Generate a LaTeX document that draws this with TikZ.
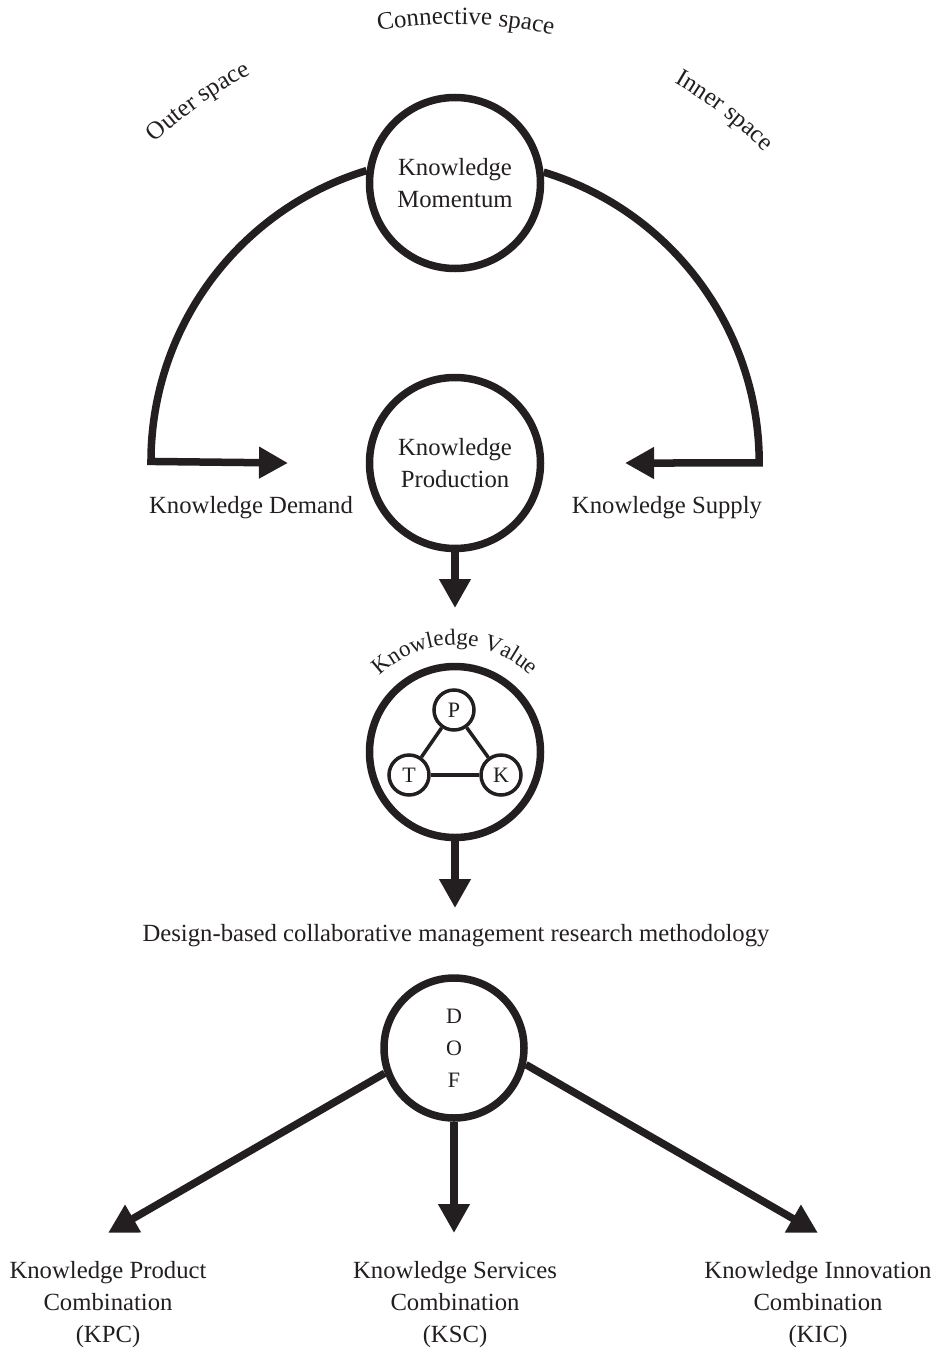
\documentclass[tikz,border=0pt]{standalone}
\usepackage{fontspec}
\setmainfont{Liberation Serif}
\usetikzlibrary{arrows.meta,decorations.text}
\definecolor{ink}{HTML}{231F20}
\newcommand\lblfont{\fontsize{24.7}{32}\selectfont}
\newcommand\arcfont{\fontsize{25}{30}\selectfont}
\newcommand\valfont{\fontsize{23}{28}\selectfont}
\newcommand\dofont{\fontsize{22}{32}\selectfont}
\newcommand\ptkfont{\fontsize{22}{24}\selectfont}
\tikzset{
  conn/.style={line width=7.5pt, draw=ink},
  tipped/.style={-{Triangle[length=29pt,width=30pt]}},
  bigcirc/.style={circle, draw=ink, line width=7.5pt, minimum size=171pt,
    inner sep=0pt, align=center, font=\lblfont, text=ink, fill=white},
  smallcirc/.style={circle, draw=ink, line width=3.5pt, minimum size=40pt,
    inner sep=0pt, font=\ptkfont, text=ink, fill=white},
  txt/.style={align=center, font=\lblfont, text=ink, inner sep=0pt},
  thinlink/.style={line width=3.5pt, draw=ink},
}
\begin{document}
\begin{tikzpicture}[x=1pt,y=1pt]
\useasboundingbox (0,0) rectangle (943,-1351);

% centre of the big half-ring and of the space labels
\coordinate (ac) at (455,-463);

% main circles
\node[bigcirc] (mom)  at (455,-183) {Knowledge\\Momentum};
\node[bigcirc] (prod) at (455,-463) {Knowledge\\Production};
\node[bigcirc] (val)  at (455,-752) {};
\node[bigcirc, minimum size=140pt, font=\dofont] (dof) at (454,-1048) {D\\O\\F};

% P-T-K triangle inside the value circle
\node[smallcirc] (p) at (454,-710) {P};
\node[smallcirc] (t) at (409,-775) {T};
\node[smallcirc] (k) at (501,-775) {K};
\draw[thinlink] (p) -- (t);
\draw[thinlink] (p) -- (k);
\draw[thinlink] (t) -- (k);

% labels
\node[txt] (dem) at (251,-508) {Knowledge Demand};
\node[txt] (sup) at (667,-508) {Knowledge Supply};
\node[txt] (meth) at (456,-936) {Design-based collaborative management research methodology};
\node[txt] (kpc) at (108,-1305) {Knowledge Product\\Combination\\(KPC)};
\node[txt] (ksc) at (455,-1305) {Knowledge Services\\Combination\\(KSC)};
\node[txt] (kic) at (818,-1305) {Knowledge Innovation\\Combination\\(KIC)};

% arrow tips
\coordinate (demTip)  at (288,-463);
\coordinate (supTip)  at (625,-463);
\coordinate (prodTip) at (455,-608);
\coordinate (valTip)  at (455,-908);
\coordinate (kpcTip)  at (108,-1233);
\coordinate (kscTip)  at (454,-1233);
\coordinate (kicTip)  at (818,-1233);

% half ring from the momentum circle down to demand and supply
\draw[conn, tipped] (mom.172.9) arc[start angle=106.9, end angle=180, radius=304pt] -- (demTip);
\draw[conn, tipped] (mom.7.1) arc[start angle=73.1, end angle=0, radius=304pt] -- (supTip);

% vertical flow
\draw[conn, tipped] (prod.south) -- (prodTip);
\draw[conn, tipped] (val.south) -- (valTip);

% branches from DOF
\draw[conn, tipped] (dof.200) -- (kpcTip);
\draw[conn, tipped] (dof.south) -- (kscTip);
\draw[conn, tipped] (dof.347) -- (kicTip);

% curved labels
\path[decorate, decoration={text along path, text align=center,
  text={|\valfont\color{ink}|Knowledge Value}}]
  (val.center) ++(160:107pt) arc[start angle=160, end angle=20, radius=107pt];
\path[decorate, decoration={text along path, text align=center,
  text={|\arcfont\color{ink}|Outer space}}]
  (ac) ++(145.4:439pt) arc[start angle=145.4, end angle=105.4, radius=439pt];
\path[decorate, decoration={text along path, text align=center,
  text={|\arcfont\color{ink}|Connective space}}]
  (ac) ++(108.6:439pt) arc[start angle=108.6, end angle=68.6, radius=439pt];
\path[decorate, decoration={text along path, text align=center,
  text={|\arcfont\color{ink}|Inner space}}]
  (ac) ++(72.6:439pt) arc[start angle=72.6, end angle=32.6, radius=439pt];
\end{tikzpicture}
\end{document}
